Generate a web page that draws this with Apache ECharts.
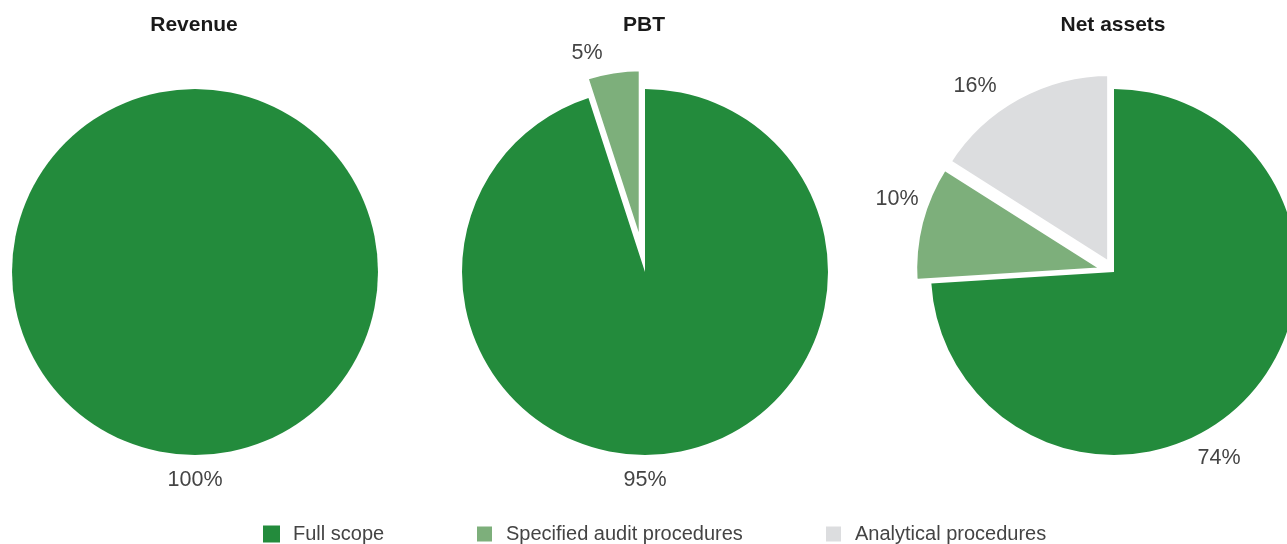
<!DOCTYPE html>
<html>
<head>
<meta charset="utf-8">
<script src="https://cdn.jsdelivr.net/npm/echarts@6/dist/echarts.min.js"></script>
<style>
  html, body { margin: 0; padding: 0; background: #ffffff; }
  #chart { width: 1287px; height: 544px; }
</style>
</head>
<body>
<div id="chart"></div>
<script>
// Audit coverage by scope type, as a share (%) of each financial measure
const scopes = ['Full scope', 'Specified audit procedures', 'Analytical procedures'];
const measures = ['Revenue', 'PBT', 'Net assets'];
const revenueShare = [100, 0, 0];
const pbtShare = [95, 5, 0];
const netAssetsShare = [74, 10, 16];

const shares = [revenueShare, pbtShare, netAssetsShare];

const palette = ['#238b3c', '#7daf7b', '#dcdddf'];
const textColor = '#444444';
const fontFamily = '"Liberation Sans", Arial, sans-serif';

// Placement of each pie, its pulled-out wedges and its percentage labels
const pieLayout = [
  { center: [195, 272], radius: 183, pulledRadius: 183, offset: 0,
    labels: [[195, 480], null, null] },
  { center: [645, 272], radius: 183, pulledRadius: 183, offset: 21,
    labels: [[645, 480], [587, 53], null] },
  { center: [1114, 272], radius: 183, pulledRadius: 192, offset: 8,
    labels: [[1219, 458], [897, 199], [975, 86]] }
];

const hidden = { color: 'rgba(0,0,0,0)', borderWidth: 0 };

function makeLabelLayout(layout, scopeIndices) {
  return function (params) {
    const p = layout.labels[scopeIndices[params.dataIndex]];
    if (!p) return {};
    return { x: p[0], y: p[1], align: 'center', verticalAlign: 'middle' };
  };
}

const baseSeries = {
  type: 'pie',
  startAngle: 90,
  clockwise: true,
  silent: true,
  avoidLabelOverlap: false,
  animation: false,
  labelLine: { show: false },
  emphasis: { disabled: true }
};

const labelStyle = {
  position: 'outside',
  formatter: '{c}%',
  fontSize: 21.5,
  fontFamily: fontFamily,
  color: textColor
};

const series = [];
shares.forEach(function (values, i) {
  const layout = pieLayout[i];
  const present = [];
  values.forEach(function (v, k) { if (v > 0) present.push(k); });

  // Wedges pulled away from the main slice, with white gaps around them
  const pulled = present.filter(function (k) { return k > 0; });
  if (pulled.length) {
    series.push(Object.assign({}, baseSeries, {
      name: measures[i] + ' detail',
      center: layout.center,
      radius: layout.pulledRadius,
      selectedMode: 'multiple',
      selectedOffset: layout.offset,
      z: 2,
      label: { show: false },
      select: { itemStyle: { borderColor: '#ffffff', borderWidth: 6 }, label: { show: false } },
      data: present.map(function (k) {
        return k === 0
          ? { name: scopes[k], value: values[k], itemStyle: hidden }
          : { name: scopes[k], value: values[k], selected: true,
              itemStyle: { color: palette[k], borderColor: '#ffffff', borderWidth: 6 } };
      })
    }));
  }

  // Main full-scope slice drawn on top; this series also carries every percentage label
  series.push(Object.assign({}, baseSeries, {
    name: measures[i],
    center: layout.center,
    radius: layout.radius,
    selectedMode: false,
    z: 3,
    label: Object.assign({ show: true }, labelStyle),
    labelLayout: makeLabelLayout(layout, present),
    data: present.map(function (k) {
      return k === 0
        ? { name: scopes[k], value: values[k], itemStyle: { color: palette[k], borderWidth: 0 } }
        : { name: scopes[k], value: values[k], itemStyle: hidden };
    })
  }));
});

// One legend entry per scope type, each placed on its own
const legendLeft = [263, 475, 824];
const legends = scopes.map(function (name, k) {
  return {
    left: legendLeft[k],
    top: 524,
    padding: 0,
    orient: 'horizontal',
    icon: 'rect',
    itemWidth: 17,
    itemHeight: 17,
    selectedMode: false,
    data: [{ name: name, itemStyle: { color: palette[k] } }],
    textStyle: {
      fontSize: 20,
      lineHeight: 17,
      fontFamily: fontFamily,
      color: textColor,
      padding: [0, 0, 0, 8]
    }
  };
});

const titles = measures.map(function (t, i) {
  return {
    type: 'text',
    x: pieLayout[i].center[0] - 1,
    y: 25,
    silent: true,
    style: {
      text: t,
      align: 'center',
      verticalAlign: 'middle',
      font: 'bold 21px ' + fontFamily,
      fill: '#1a1a1a'
    }
  };
});

const chart = echarts.init(document.getElementById('chart'), null, { renderer: 'canvas' });
chart.setOption({
  backgroundColor: '#ffffff',
  animation: false,
  textStyle: { fontFamily: fontFamily },
  color: palette,
  tooltip: { show: false },
  legend: legends,
  graphic: titles,
  series: series
});
</script>
</body>
</html>
